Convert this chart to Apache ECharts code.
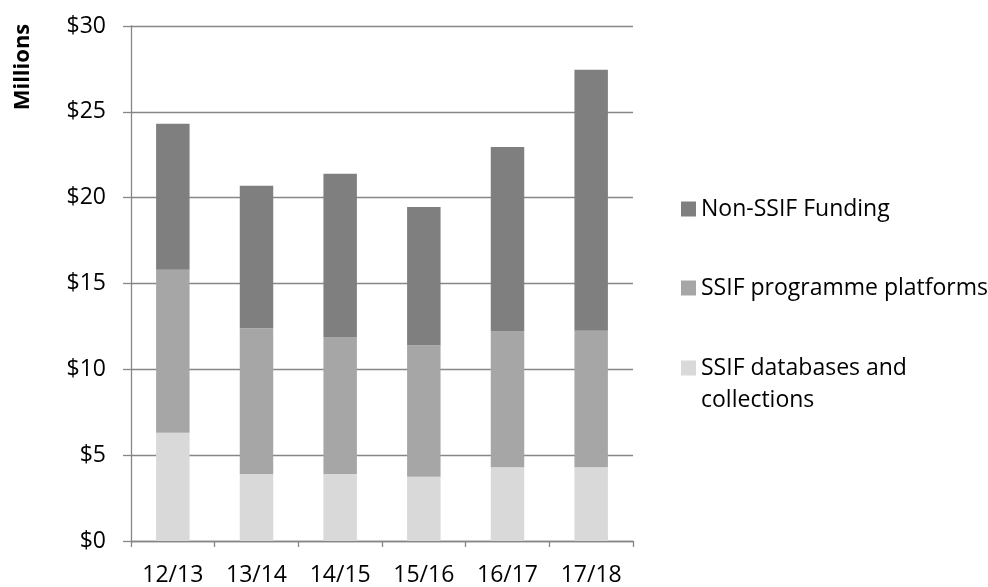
<!DOCTYPE html>
<html>
<head>
<meta charset="utf-8">
<script src="https://cdn.jsdelivr.net/npm/echarts@6/dist/echarts.min.js"></script>
<style>
  html, body { margin: 0; padding: 0; background: #fff; }
  #chart { width: 988px; height: 587px; }
</style>
</head>
<body>
<div id="chart"></div>
<script>
// Funding by financial year, in millions of dollars (stacked segments)
const years = ['12/13', '13/14', '14/15', '15/16', '16/17', '17/18'];
const databasesAndCollections = [6.3, 3.9, 3.9, 3.75, 4.3, 4.3];
const programmePlatforms = [9.5, 8.5, 7.95, 7.65, 7.9, 7.95];
const nonSsifFunding = [8.5, 8.3, 9.55, 8.05, 10.75, 15.2];

const yTickValues = [0, 5, 10, 15, 20, 25, 30];

const FONT = '"Open Sans", sans-serif';
const FONT_SIZE = 23;
const AXIS_GREY = '#868686';

const NAME_NON = 'Non-SSIF Funding';
const NAME_PLAT = 'SSIF programme platforms';
const NAME_DB = 'SSIF databases and collections';

// one legend block per series so each entry can be placed on its own row
function legendAt(name, top, formatter) {
  const cfg = {
    left: 676,
    top: top,
    orient: 'vertical',
    itemWidth: 15,
    itemHeight: 15,
    icon: 'rect',
    selectedMode: false,
    data: [name],
    textStyle: { fontFamily: FONT, fontSize: FONT_SIZE, color: '#000', lineHeight: 32 }
  };
  if (formatter) cfg.formatter = formatter;
  return cfg;
}

const chart = echarts.init(document.getElementById('chart'), null, { renderer: 'canvas' });

chart.setOption({
  animation: false,
  backgroundColor: '#fff',
  grid: { left: 131, right: 355, top: 26, bottom: 45, containLabel: false },
  xAxis: {
    type: 'category',
    data: years,
    boundaryGap: true,
    axisLine: { lineStyle: { color: AXIS_GREY, width: 1.3 } },
    axisTick: { show: true, length: 6, lineStyle: { color: AXIS_GREY, width: 1.3 } },
    axisLabel: { margin: 23, fontFamily: FONT, fontSize: FONT_SIZE, color: '#000' }
  },
  yAxis: {
    type: 'value',
    min: yTickValues[0],
    max: yTickValues[yTickValues.length - 1],
    interval: yTickValues[1] - yTickValues[0],
    axisLine: { show: true, lineStyle: { color: AXIS_GREY, width: 1.3 } },
    axisTick: { show: true, length: 8, lineStyle: { color: AXIS_GREY, width: 1.3 } },
    splitLine: { show: true, lineStyle: { color: AXIS_GREY, width: 1.3 } },
    axisLabel: {
      margin: 25,
      fontFamily: FONT,
      fontSize: FONT_SIZE,
      color: '#000',
      formatter: v => '$' + v
    }
  },
  legend: [
    legendAt(NAME_NON, 188),
    legendAt(NAME_PLAT, 267),
    // leading blank line keeps the swatch level with the first text line
    legendAt(NAME_DB, 315, () => '\nSSIF databases and\ncollections')
  ],
  graphic: [{
    type: 'text',
    x: 23,
    y: 67,
    rotation: Math.PI / 2,
    style: {
      text: 'Millions',
      font: 'bold 22px ' + FONT,
      fill: '#000',
      textAlign: 'center',
      textVerticalAlign: 'middle'
    }
  }],
  series: [
    {
      name: NAME_DB, type: 'bar', stack: 'total', barWidth: '40%',
      itemStyle: { color: '#d9d9d9' }, data: databasesAndCollections
    },
    {
      name: NAME_PLAT, type: 'bar', stack: 'total', barWidth: '40%',
      itemStyle: { color: '#a6a6a6' }, data: programmePlatforms
    },
    {
      name: NAME_NON, type: 'bar', stack: 'total', barWidth: '40%',
      itemStyle: { color: '#7f7f7f' }, data: nonSsifFunding
    }
  ]
});
</script>
</body>
</html>
